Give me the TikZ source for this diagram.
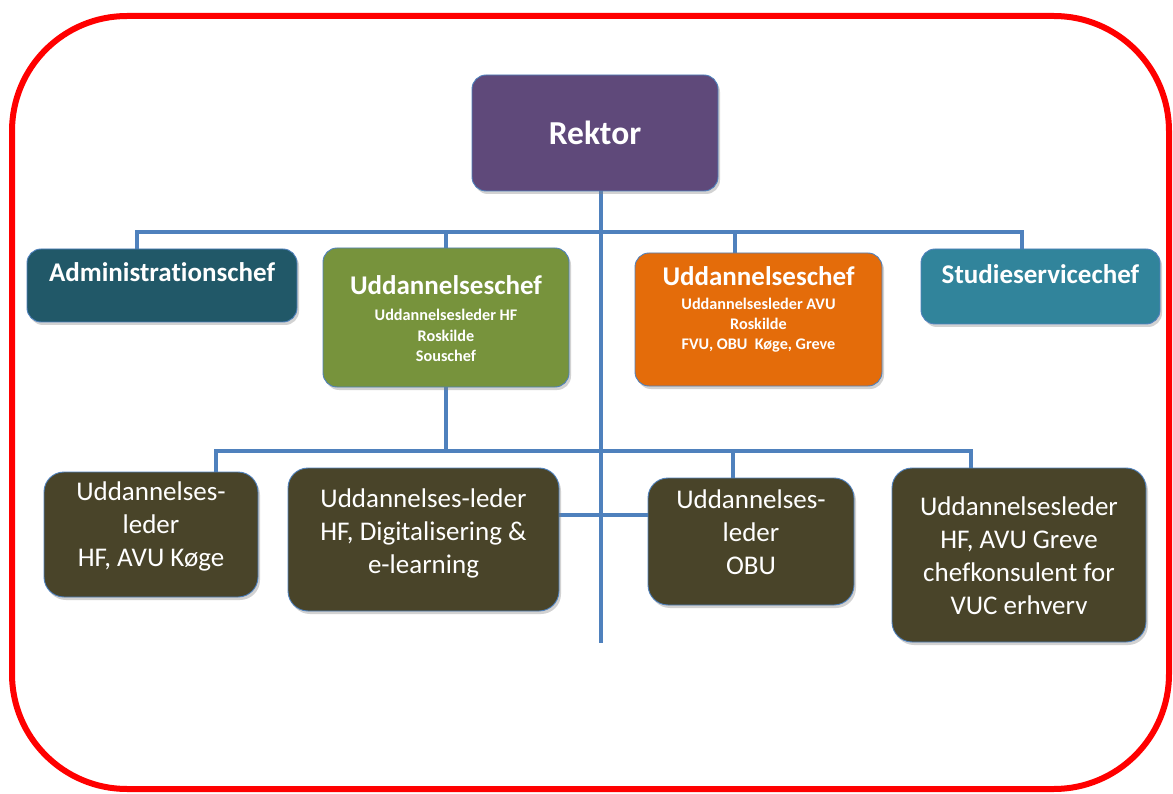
\documentclass[tikz,border=0pt]{standalone}
\usepackage{fontspec}
\setmainfont{Carlito}[Ligatures=NoCommon]
\usetikzlibrary{shadows,backgrounds}
\definecolor{lineblue}{HTML}{4F81BD}
\definecolor{rektorpurple}{HTML}{5F497A}
\definecolor{adminteal}{HTML}{215868}
\definecolor{chefgreen}{HTML}{77933C}
\definecolor{cheforange}{HTML}{E46C0A}
\definecolor{studieteal}{HTML}{31849B}
\definecolor{lederolive}{HTML}{494429}
\newcommand\bxt[4]{\parbox[c][#2pt][t]{#1pt}{\centering\rule{0pt}{#3pt}#4\par}}
\newcommand\orgttl{\fontsize{27}{33}\selectfont\bfseries}
\newcommand\orgsml{\fontsize{16.2}{20.5}\selectfont\bfseries}
\newcommand\orgreg{\fontsize{27}{33}\selectfont}
\begin{document}
\begin{tikzpicture}[x=1pt,y=-1pt,
  box/.style={draw=lineblue, line width=0.9pt, inner sep=0pt, outer sep=0pt, text=white,
    rounded corners=14pt, drop shadow={opacity=0.35, shadow xshift=2pt, shadow yshift=-3pt}},
  lowbox/.style={box, rounded corners=20pt, fill=lederolive},
  conn/.style={draw=lineblue, line width=4pt},
  frame/.style={draw=red, line width=6pt, rounded corners=115pt}]
\useasboundingbox (0,0) rectangle (1173,794);
\draw[frame] (12,16) rectangle (1169,789);

\node[box, fill=rektorpurple] (rektor) at (595,133)
  {\bxt{246}{116}{70}{\fontsize{33.5}{40}\selectfont\bfseries Rektor}};
\node[box, fill=adminteal] (admin) at (162,285.5)
  {\bxt{270}{73}{33}{\orgttl Administrationschef}};
\node[box, fill=chefgreen] (ucgreen) at (446,317.5)
  {\bxt{246}{139}{46.5}{{\orgttl Uddannelseschef}\\[5.7pt]\orgsml Uddannelsesleder HF\\Roskilde\\Souschef}};
\node[box, fill=cheforange] (ucorange) at (758.5,319.5)
  {\bxt{247}{133}{32.5}{{\orgttl Uddannelseschef}\\[4.5pt]\fontsize{16.2}{20}\selectfont\bfseries Uddannelsesleder AVU\\Roskilde\\FVU, OBU\ \ Køge, Greve}};
\node[box, fill=studieteal] (studie) at (1040.5,286.5)
  {\bxt{239}{75}{34.5}{\orgttl Studieservicechef}};

\node[lowbox] (leder1) at (151,534.5)
  {\bxt{214}{125}{28}{\orgreg Uddannelses-\\leder\\HF, AVU Køge}};
\node[lowbox] (leder2) at (423.5,539.5)
  {\bxt{271}{143}{39}{\orgreg Uddannelses-leder\\HF, Digitalisering \&\\e-learning}};
\node[lowbox] (lederobu) at (751,541.5)
  {\bxt{206}{127}{30}{\orgreg Uddannelses-\\leder\\OBU}};
\node[lowbox] (leder4) at (1019,555)
  {\bxt{254}{174}{47}{\orgreg Uddannelsesleder\\HF, AVU Greve\\chefkonsulent for\\VUC erhverv}};

\coordinate (trunkend) at (601,643);
\coordinate (busL) at (137,232);
\coordinate (busR) at (1022,232);
\coordinate (orangetap) at (735,232);
\coordinate (lbusL) at (216,451);
\coordinate (lbusR) at (971,451);
\coordinate (obutap) at (733,451);
\coordinate (midline) at (601,515);

\begin{scope}[on background layer]
\fill[white] (0,0) rectangle (1173,794);
\draw[conn] (rektor.south -| trunkend) -- (trunkend);
\draw[conn] (admin.north -| busL) -- (busL) -- (busR) -- (studie.north -| busR);
\draw[conn] (ucgreen.north) -- (ucgreen.north |- busL);
\draw[conn] (ucorange.north -| orangetap) -- (orangetap);
\draw[conn] (ucgreen.south) -- (ucgreen.south |- lbusL);
\draw[conn] (leder1.north -| lbusL) -- (lbusL) -- (lbusR) -- (leder4.north -| lbusR);
\draw[conn] (lederobu.north -| obutap) -- (obutap);
\draw[conn] (leder2.east |- midline) -- (lederobu.west |- midline);
\end{scope}
\end{tikzpicture}
\end{document}
